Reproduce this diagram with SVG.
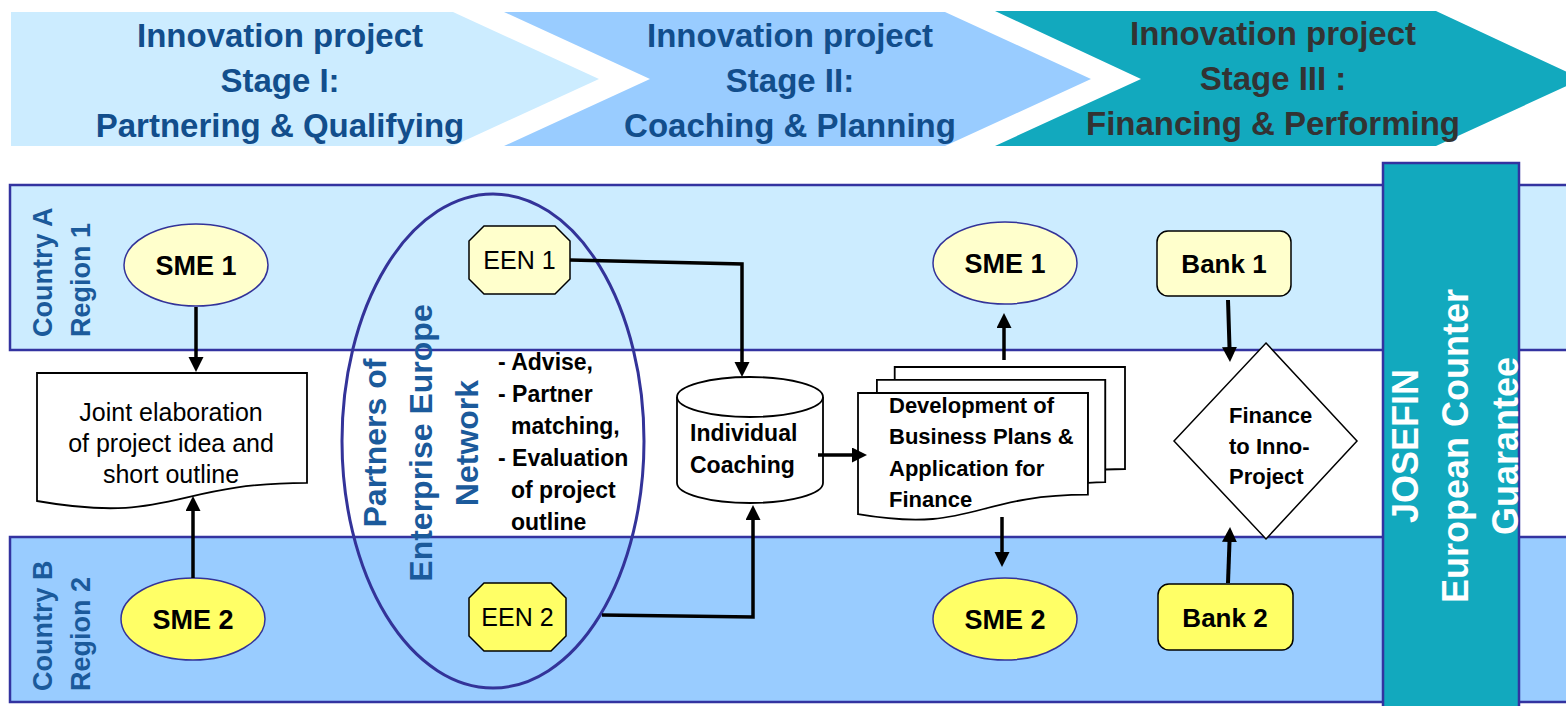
<svg xmlns="http://www.w3.org/2000/svg" width="1566" height="706" viewBox="0 0 1566 706">
<style>
text{font-family:"Liberation Sans",Arial,sans-serif}
.bt{font-size:33px;font-weight:bold;fill:#124E8C;text-anchor:middle}
.bt3{font-size:33px;font-weight:bold;fill:#333333;text-anchor:middle}
.lane{stroke:#3333A0;stroke-width:2.5}
.lbl{font-size:27px;font-weight:bold;fill:#1B5A9B}
.pen{font-size:32px;font-weight:bold;fill:#1B5A9B;text-anchor:middle}
.jos{font-size:36px;font-weight:bold;fill:#FFFFFF;text-anchor:middle}
.sme{stroke:#333399;stroke-width:1.5}
.big{font-size:27px;font-weight:bold;fill:#000;text-anchor:middle}
.een{font-size:25px;fill:#000;text-anchor:middle}
.bank{font-size:26px;font-weight:bold;fill:#000;text-anchor:middle}
.bl{font-size:23px;font-weight:bold;fill:#000}
.sm{font-size:22px;font-weight:bold;fill:#000}
.reg{font-size:25px;fill:#000;text-anchor:middle}
.shape{fill:#FFFFFF;stroke:#000;stroke-width:1.8}
.conn{fill:none;stroke:#000;stroke-width:3.5}
</style>
<defs>
<marker id="ah" markerUnits="userSpaceOnUse" markerWidth="16" markerHeight="16" refX="3" refY="7.5" orient="auto">
<path d="M0,0 L15,7.5 L0,15 Z" fill="#000"/>
</marker>
</defs>

<g id="banners">
<polygon points="11,12 453,12 599,79 453,146 11,146" fill="#CCECFF"/>
<polygon points="504,12 945,12 1091,79 945,146 504,146 650,79" fill="#99CCFF"/>
<polygon points="995,11 1436,11 1582,79 1436,146 995,146 1141,79" fill="#12A9BE"/>
<text class="bt" x="280" y="47">Innovation project</text>
<text class="bt" x="280" y="92">Stage I:</text>
<text class="bt" x="280" y="137">Partnering &amp; Qualifying</text>
<text class="bt" x="790" y="47">Innovation project</text>
<text class="bt" x="790" y="92">Stage II:</text>
<text class="bt" x="790" y="137">Coaching &amp; Planning</text>
<text class="bt3" x="1273" y="45">Innovation project</text>
<text class="bt3" x="1273" y="90">Stage III :</text>
<text class="bt3" x="1273" y="135">Financing &amp; Performing</text>
</g>

<g id="lanes">
<rect class="lane" x="10" y="185" width="1570" height="165" fill="#CCECFF"/>
<rect class="lane" x="10" y="537" width="1570" height="165" fill="#99CCFF"/>
<text class="lbl" transform="translate(52,337) rotate(-90)">Country A</text>
<text class="lbl" transform="translate(90,337) rotate(-90)">Region 1</text>
<text class="lbl" transform="translate(52,691) rotate(-90)">Country B</text>
<text class="lbl" transform="translate(90,691) rotate(-90)">Region 2</text>
</g>

<g id="josefin">
<rect x="1383" y="163" width="136" height="560" fill="#12A9BE" stroke="#3333A0" stroke-width="2.5"/>
<text class="jos" transform="translate(1418,446) rotate(-90)">JOSEFIN</text>
<text class="jos" transform="translate(1468,446) rotate(-90)">European Counter</text>
<text class="jos" transform="translate(1518,446) rotate(-90)">Guarantee</text>
</g>

<g id="een-partners">
<ellipse cx="493" cy="441" rx="151" ry="247" fill="none" stroke="#333399" stroke-width="3"/>
<text class="pen" transform="translate(386,443) rotate(-90)">Partners of</text>
<text class="pen" transform="translate(432,443) rotate(-90)">Enterprise Europe</text>
<text class="pen" transform="translate(478,443) rotate(-90)">Network</text>
<text class="bl" x="498" y="370">- Advise,</text>
<text class="bl" x="498" y="402">- Partner</text>
<text class="bl" x="511" y="434">matching,</text>
<text class="bl" x="498" y="466">- Evaluation</text>
<text class="bl" x="511" y="498">of project</text>
<text class="bl" x="511" y="530">outline</text>
</g>

<g id="sme1-left">
<ellipse class="sme" cx="196" cy="265" rx="72" ry="41" fill="#FFFFCC"/>
<text class="big" x="196" y="275">SME 1</text>
</g>
<g id="sme2-left">
<ellipse class="sme" cx="193" cy="619" rx="72" ry="41" fill="#FFFF66"/>
<text class="big" x="193" y="629">SME 2</text>
</g>
<g id="joint-doc">
<path class="shape" d="M37,373 H307 V482.9 C172,482.9 172,524.7 37,501 Z"/>
<text class="reg" x="171" y="421">Joint elaboration</text>
<text class="reg" x="171" y="452">of project idea and</text>
<text class="reg" x="171" y="483">short outline</text>
</g>
<g id="een1">
<path d="M484,226 H555 L570,241 V279 L555,294 H484 L469,279 V241 Z" fill="#FFFFCC" stroke="#000" stroke-width="1.5"/>
<text class="een" x="519.5" y="269">EEN 1</text>
</g>
<g id="een2">
<path d="M484,583 H551 L566,598 V636 L551,651 H484 L469,636 V598 Z" fill="#FFFF66" stroke="#000" stroke-width="1.5"/>
<text class="een" x="517.5" y="626">EEN 2</text>
</g>
<g id="coaching">
<path class="shape" d="M677,397 V483 A73,20 0 0 0 823,483 V397 A73,20 0 0 0 677,397 Z"/>
<path d="M677,397 A73,20 0 0 0 823,397" fill="none" stroke="#000" stroke-width="1.8"/>
<text class="bl" x="690" y="441">Individual</text>
<text class="bl" x="690" y="473">Coaching</text>
</g>
<g id="business-plans">
<path class="shape" d="M894.7,379.9 V367 H1125 V469 C1115.1,469 1105.2,469.5 1105.2,469.5 V379.9 Z"/>
<path class="shape" d="M876.9,393 V379.9 H1105.2 V482.1 C1096.5,482.1 1087.9,482.8 1087.9,482.8 V393 Z"/>
<path class="shape" d="M858,514.2 C972.9,533.8 972.9,494.7 1087.9,494.7 V393 H858 Z"/>
<text class="sm" x="889" y="413">Development of</text>
<text class="sm" x="889" y="444">Business Plans &amp;</text>
<text class="sm" x="889" y="476">Application for</text>
<text class="sm" x="889" y="507">Finance</text>
</g>
<g id="sme1-right">
<ellipse class="sme" cx="1005" cy="263" rx="72" ry="41" fill="#FFFFCC"/>
<text class="big" x="1005" y="273">SME 1</text>
</g>
<g id="sme2-right">
<ellipse class="sme" cx="1005" cy="619" rx="72" ry="41" fill="#FFFF66"/>
<text class="big" x="1005" y="629">SME 2</text>
</g>
<g id="bank1">
<rect x="1157" y="231" width="134" height="65" rx="11" fill="#FFFFCC" stroke="#000" stroke-width="1.5"/>
<text class="bank" x="1224" y="273">Bank 1</text>
</g>
<g id="bank2">
<rect x="1158" y="584" width="135" height="66" rx="11" fill="#FFFF66" stroke="#000" stroke-width="1.5"/>
<text class="bank" x="1225" y="627">Bank 2</text>
</g>
<g id="finance">
<polygon points="1266,343 1357,441 1266,539 1174,441" fill="#FFFFFF" stroke="#000" stroke-width="1.5"/>
<text class="sm" x="1229" y="423">Finance</text>
<text class="sm" x="1229" y="454">to Inno-</text>
<text class="sm" x="1229" y="484">Project</text>
</g>

<g id="connectors">
<line class="conn" x1="196" y1="307" x2="196" y2="360" marker-end="url(#ah)"/>
<line class="conn" x1="193" y1="578" x2="193" y2="508" marker-end="url(#ah)"/>
<polyline class="conn" points="570,260 742,264 742,365" marker-end="url(#ah)"/>
<polyline class="conn" points="602,615 753,617 753,517" marker-end="url(#ah)"/>
<line class="conn" x1="818" y1="455" x2="855" y2="455" marker-end="url(#ah)"/>
<line class="conn" x1="1004" y1="360" x2="1004" y2="325" marker-end="url(#ah)"/>
<line class="conn" x1="1002" y1="517" x2="1002" y2="555" marker-end="url(#ah)"/>
<line class="conn" style="stroke-width:4" x1="1228" y1="300" x2="1229.6" y2="350" marker-end="url(#ah)"/>
<line class="conn" style="stroke-width:4" x1="1228" y1="583" x2="1229.6" y2="539" marker-end="url(#ah)"/>
</g>
</svg>
